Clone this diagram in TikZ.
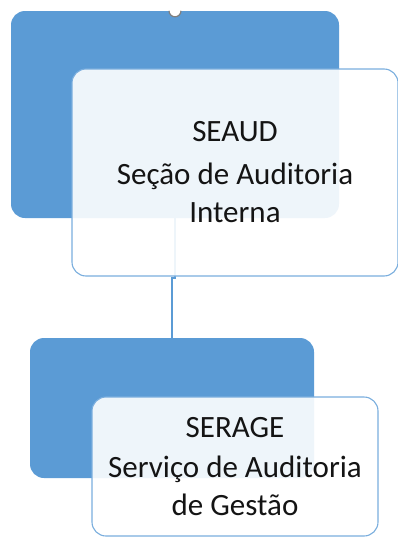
\documentclass[tikz,border=0pt]{standalone}
\usepackage{fontspec}
\setmainfont{Carlito}
\usetikzlibrary{calc}
\definecolor{bgc}{RGB}{91,155,213}
\definecolor{edc}{RGB}{122,174,222}
\definecolor{txc}{RGB}{20,20,20}

\begin{document}
\begin{tikzpicture}[x=1pt, y=-1pt,
	back/.style={rectangle, rounded corners=14pt, fill=bgc, inner sep=0pt},
	front/.style={rectangle, rounded corners=14pt, draw=edc, line width=1.1pt,
	              fill=white, fill opacity=0.9, text opacity=1, text=txc,
	              align=center, inner sep=0pt, font=\fontsize{31}{38}\selectfont},
	link/.style={draw=bgc, line width=1.5pt}]
	 \useasboundingbox (0,0) rectangle (398,538);

	 \node[back, minimum width=328pt, minimum height=207pt] (seaudbg) at (175,114.5) {};
	 \node[back, minimum width=284pt, minimum height=140pt] (seragebg) at (172,408) {};

	 \draw[link] (seaudbg.south) -- ++(0,60) -| (seragebg.north);

	 \node[front, minimum width=326pt, minimum height=207pt] (seaud) at (235,172.5) {SEAUD\\[5pt]Seção de Auditoria\\Interna};
	 \node[front, minimum width=286pt, minimum height=139pt] (serage) at (235,466.5) {SERAGE\\[2pt]Serviço de Auditoria\\de Gestão};

	 % handle on top
	 \fill[white] ($(seaudbg.north)+(-6,0)$) arc (180:360:6pt) -- cycle;
	 \draw[gray, line width=1.2pt] ($(seaudbg.north)+(-6,0)$) arc (180:360:6pt);
\end{tikzpicture}
\end{document}
